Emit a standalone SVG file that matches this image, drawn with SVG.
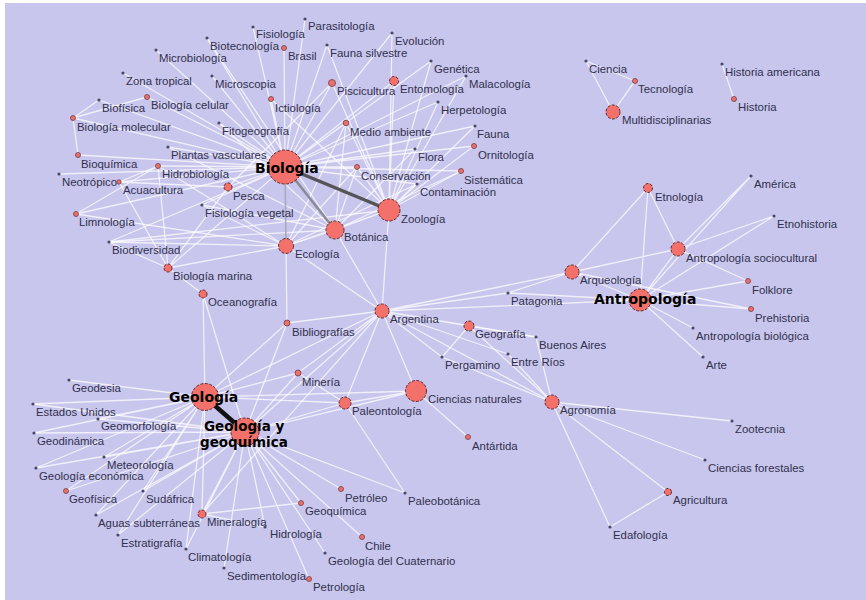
<svg xmlns="http://www.w3.org/2000/svg" width="866" height="600" viewBox="0 0 866 600">
<style>
.e{stroke:#ffffff;stroke-opacity:0.72;stroke-width:1.3;fill:none}
.d{fill:#4a4a68}
.s{fill:#e8736e;stroke:#7a3a40;stroke-width:0.8}
.n{fill:#f4716b;stroke:#5a2a2e;stroke-width:1;stroke-dasharray:3 1.5}
.t{font-family:"Liberation Sans",Arial,sans-serif;font-size:11.4px;fill:#30304e}
.b{font-family:"DejaVu Sans",Verdana,sans-serif;font-size:14px;font-weight:bold;fill:#000}
.b2{font-family:"DejaVu Sans",Verdana,sans-serif;font-size:13.5px;font-weight:bold;fill:#000}
</style>
<rect x="0" y="0" width="866" height="600" fill="#ffffff"/>
<rect x="5" y="3" width="861" height="597" fill="#c8c6ec"/>
<g id="connectors">
<g class="e">
<path d="M285 167L253 27M285 167L305 19M285 167L207 38M285 167L284 48M285 167L392 33M285 167L327 45M285 167L156 50M285 167L431 61M285 167L123 73M285 167L212 76M285 167L332 83M285 167L394 81M285 167L466 76M285 167L99 100M285 167L147 97M285 167L271 99M285 167L438 102M285 167L73 118M285 167L219 123M285 167L346 123M285 167L475 126M285 167L168 147M285 167L415 149M285 167L474 146M285 167L78 155M285 167L158 166M285 167L357 167M285 167L461 171M285 167L59 174M285 167L119 182M285 167L228 187M285 167L417 184M285 167L202 205M285 167L76 214M285 167L109 242M285 167L168 268"/>
<path d="M389 210L394 81M389 210L431 61M389 210L466 76M389 210L438 102M389 210L475 126M389 210L474 146M389 210L461 171M389 210L392 33M389 210L327 45M389 210L357 167M389 210L271 99M389 210L332 83M389 210L346 123M389 210L417 184M389 210L382 311M389 210L286 246M389 210L109 242M389 210L335 230"/>
<path d="M335 230L415 149M335 230L168 147M335 230L219 123M335 230L202 205M335 230L461 171M335 230L382 311M335 230L286 246M335 230L207 38M335 230L357 167M335 230L109 242M335 230L346 123"/>
<path d="M286 246L346 123M286 246L357 167M286 246L109 242M286 246L76 214M286 246L417 184M286 246L287 323M286 246L168 268M286 246L382 311M286 246L158 166M286 246L202 205"/>
<path d="M168 268L203 294M168 268L109 242M168 268L119 182M168 268L158 166M168 268L228 187M158 166L76 214M158 166L119 182M228 187L119 182M73 118L78 155M73 118L147 97M73 118L99 100M228 187L332 83M203 294L205 397M203 294L245 432M287 323L245 432M287 323L205 397"/>
<path d="M382 311L572 272M382 311L640 300M382 311L508 293M382 311L469 326M382 311L536 337M382 311L442 357M382 311L508 354M382 311L552 402M382 311L416 391M382 311L345 403M382 311L205 397M382 311L245 432M382 311L287 323M382 311L298 373M382 311L202 514"/>
<path d="M640 300L572 272M640 300L648 188M640 300L678 249M640 300L748 281M640 300L751 309M640 300L693 328M640 300L703 357M640 300L774 216M640 300L751 176M640 300L508 293M678 249L648 188M678 249L751 176M678 249L774 216M678 249L748 281M678 249L572 272M572 272L648 188M572 272L751 309M572 272L508 293"/>
<path d="M552 402L732 421M552 402L705 460M552 402L668 492M552 402L610 527M552 402L536 337M552 402L508 354M552 402L469 326M552 402L442 357M668 492L610 527M469 326L536 337M469 326L442 357M416 391L468 437M416 391L205 397M416 391L345 403M416 391L245 432"/>
<path d="M205 397L69 380M205 397L33 404M205 397L98 419M205 397L34 433M205 397L104 457M205 397L36 468M205 397L66 491M205 397L143 491M205 397L96 515M205 397L202 514M205 397L118 535M205 397L186 549M205 397L298 373M205 397L345 403"/>
<path d="M245 432L341 489M245 432L301 503M245 432L265 527M245 432L362 537M245 432L325 553M245 432L309 579M245 432L224 568M245 432L202 514M245 432L186 549M245 432L118 535M245 432L96 515M245 432L143 491M245 432L66 491M245 432L36 468M245 432L104 457M245 432L34 433M245 432L33 404M245 432L98 419M245 432L298 373M245 432L345 403M245 432L405 493M345 403L405 493M345 403L298 373M202 514L301 503M202 514L265 527"/>
<path d="M613 112L586 61M613 112L635 81M586 61L635 81M722 64L734 99"/>
</g>
<line x1="285" y1="167" x2="286" y2="246" stroke="#a9a8c0" stroke-width="1.6"/>
<line x1="285" y1="167" x2="335" y2="230" stroke="#8a8a96" stroke-width="2.5"/>
<line x1="285" y1="167" x2="389" y2="210" stroke="#555558" stroke-width="3.5"/>
<line x1="205" y1="397" x2="245" y2="432" stroke="#111" stroke-width="4.5"/>
</g>
<g id="nodes">
<g id="n-fisiologia"><circle class="d" cx="253" cy="27" r="1.6"/><text class="t" x="256" y="38">Fisiología</text></g>
<g id="n-parasitologia"><circle class="d" cx="305" cy="19" r="1.6"/><text class="t" x="308" y="30">Parasitología</text></g>
<g id="n-biotecnologia"><circle class="d" cx="207" cy="38" r="1.6"/><text class="t" x="210" y="50">Biotecnología</text></g>
<g id="n-brasil"><circle class="s" cx="284" cy="48" r="2.5"/><text class="t" x="288" y="60">Brasil</text></g>
<g id="n-evolucion"><circle class="d" cx="392" cy="33" r="1.6"/><text class="t" x="395" y="45">Evolución</text></g>
<g id="n-fauna-silvestre"><circle class="d" cx="327" cy="45" r="1.6"/><text class="t" x="330" y="57">Fauna silvestre</text></g>
<g id="n-microbiologia"><circle class="d" cx="156" cy="50" r="1.6"/><text class="t" x="159" y="62">Microbiología</text></g>
<g id="n-genetica"><circle class="d" cx="431" cy="61" r="1.6"/><text class="t" x="434" y="73">Genética</text></g>
<g id="n-zona-tropical"><circle class="d" cx="123" cy="73" r="1.6"/><text class="t" x="126" y="85">Zona tropical</text></g>
<g id="n-microscopia"><circle class="d" cx="212" cy="76" r="1.6"/><text class="t" x="215" y="88">Microscopia</text></g>
<g id="n-piscicultura"><circle class="s" cx="332" cy="83" r="3.5"/><text class="t" x="337" y="95">Piscicultura</text></g>
<g id="n-entomologia"><circle class="n" cx="394" cy="81" r="4.5"/><text class="t" x="400" y="93">Entomología</text></g>
<g id="n-malacologia"><circle class="d" cx="466" cy="76" r="1.6"/><text class="t" x="469" y="88">Malacología</text></g>
<g id="n-biofisica"><circle class="d" cx="99" cy="100" r="1.6"/><text class="t" x="102" y="112">Biofísica</text></g>
<g id="n-biologia-celular"><circle class="s" cx="147" cy="97" r="2.5"/><text class="t" x="151" y="109">Biología celular</text></g>
<g id="n-ictiologia"><circle class="s" cx="271" cy="99" r="2.5"/><text class="t" x="275" y="112">Ictiología</text></g>
<g id="n-herpetologia"><circle class="d" cx="438" cy="102" r="1.6"/><text class="t" x="441" y="114">Herpetología</text></g>
<g id="n-biologia-molecular"><circle class="s" cx="73" cy="118" r="2.5"/><text class="t" x="77" y="131">Biología molecular</text></g>
<g id="n-fitogeografia"><circle class="d" cx="219" cy="123" r="1.6"/><text class="t" x="222" y="135">Fitogeografía</text></g>
<g id="n-medio-ambiente"><circle class="s" cx="346" cy="123" r="2.8"/><text class="t" x="350" y="136">Medio ambiente</text></g>
<g id="n-fauna"><circle class="d" cx="475" cy="126" r="1.6"/><text class="t" x="477" y="138">Fauna</text></g>
<g id="n-plantas-vasculares"><circle class="d" cx="168" cy="147" r="1.6"/><text class="t" x="171" y="159">Plantas vasculares</text></g>
<g id="n-flora"><circle class="d" cx="415" cy="149" r="1.6"/><text class="t" x="418" y="161">Flora</text></g>
<g id="n-ornitologia"><circle class="s" cx="474" cy="146" r="2.5"/><text class="t" x="478" y="159">Ornitología</text></g>
<g id="n-bioquimica"><circle class="s" cx="78" cy="155" r="2.5"/><text class="t" x="81" y="168">Bioquímica</text></g>
<g id="n-hidrobiologia"><circle class="s" cx="158" cy="166" r="2.5"/><text class="t" x="162" y="178">Hidrobiología</text></g>
<g id="n-conservacion"><circle class="s" cx="357" cy="167" r="2.5"/><text class="t" x="361" y="180">Conservación</text></g>
<g id="n-sistematica"><circle class="s" cx="461" cy="171" r="2.5"/><text class="t" x="464" y="184">Sistemática</text></g>
<g id="n-neotropico"><circle class="d" cx="59" cy="174" r="1.6"/><text class="t" x="62" y="186">Neotrópico</text></g>
<g id="n-acuacultura"><circle class="s" cx="119" cy="182" r="2.2"/><text class="t" x="123" y="194">Acuacultura</text></g>
<g id="n-pesca"><circle class="n" cx="228" cy="187" r="4"/><text class="t" x="233" y="200">Pesca</text></g>
<g id="n-contaminacion"><circle class="d" cx="417" cy="184" r="1.6"/><text class="t" x="420" y="196">Contaminación</text></g>
<g id="n-fisiologia-vegetal"><circle class="d" cx="202" cy="205" r="1.6"/><text class="t" x="205" y="217">Fisiología vegetal</text></g>
<g id="n-limnologia"><circle class="s" cx="76" cy="214" r="2.5"/><text class="t" x="79" y="226">Limnología</text></g>
<g id="n-biodiversidad"><circle class="d" cx="109" cy="242" r="1.6"/><text class="t" x="112" y="254">Biodiversidad</text></g>
<g id="n-biologia-marina"><circle class="n" cx="168" cy="268" r="4"/><text class="t" x="173" y="280">Biología marina</text></g>
<g id="n-oceanografia"><circle class="n" cx="203" cy="294" r="4"/><text class="t" x="208" y="306">Oceanografía</text></g>
<g id="n-bibliografias"><circle class="s" cx="287" cy="323" r="3"/><text class="t" x="292" y="336">Bibliografías</text></g>
<g id="n-mineria"><circle class="s" cx="298" cy="373" r="3"/><text class="t" x="302" y="386">Minería</text></g>
<g id="n-zoologia"><circle class="n" cx="389" cy="210" r="11"/><text class="t" x="401" y="223">Zoología</text></g>
<g id="n-botanica"><circle class="n" cx="335" cy="230" r="9"/><text class="t" x="344" y="241">Botánica</text></g>
<g id="n-ecologia"><circle class="n" cx="286" cy="246" r="7.5"/><text class="t" x="295" y="258">Ecología</text></g>
<g id="n-biologia"><circle class="n" cx="285" cy="167" r="17"/><text class="b" x="255" y="173">Biología</text></g>
<g id="n-argentina"><circle class="n" cx="382" cy="311" r="7"/><text class="t" x="390" y="323">Argentina</text></g>
<g id="n-patagonia"><circle class="d" cx="508" cy="293" r="1.6"/><text class="t" x="511" y="305">Patagonia</text></g>
<g id="n-geografia"><circle class="n" cx="469" cy="326" r="5"/><text class="t" x="475" y="338">Geografía</text></g>
<g id="n-buenos-aires"><circle class="d" cx="536" cy="337" r="1.6"/><text class="t" x="539" y="349">Buenos Aires</text></g>
<g id="n-pergamino"><circle class="d" cx="442" cy="357" r="1.6"/><text class="t" x="445" y="369">Pergamino</text></g>
<g id="n-entre-rios"><circle class="d" cx="508" cy="354" r="1.6"/><text class="t" x="511" y="366">Entre Ríos</text></g>
<g id="n-ciencias-naturales"><circle class="n" cx="416" cy="391" r="10.5"/><text class="t" x="428" y="403">Ciencias naturales</text></g>
<g id="n-paleontologia"><circle class="n" cx="345" cy="403" r="6"/><text class="t" x="352" y="415">Paleontología</text></g>
<g id="n-antartida"><circle class="s" cx="468" cy="437" r="2.5"/><text class="t" x="472" y="450">Antártida</text></g>
<g id="n-agronomia"><circle class="n" cx="552" cy="402" r="7"/><text class="t" x="560" y="414">Agronomía</text></g>
<g id="n-zootecnia"><circle class="d" cx="732" cy="421" r="1.6"/><text class="t" x="735" y="433">Zootecnia</text></g>
<g id="n-ciencias-forestales"><circle class="d" cx="705" cy="460" r="1.6"/><text class="t" x="708" y="472">Ciencias forestales</text></g>
<g id="n-agricultura"><circle class="n" cx="668" cy="492" r="3.5"/><text class="t" x="673" y="504">Agricultura</text></g>
<g id="n-edafologia"><circle class="d" cx="610" cy="527" r="1.6"/><text class="t" x="613" y="539">Edafología</text></g>
<g id="n-ciencia"><circle class="d" cx="586" cy="61" r="1.6"/><text class="t" x="589" y="73">Ciencia</text></g>
<g id="n-tecnologia"><circle class="s" cx="635" cy="81" r="2.5"/><text class="t" x="638" y="93">Tecnología</text></g>
<g id="n-multidisciplinarias"><circle class="n" cx="613" cy="112" r="7"/><text class="t" x="622" y="124">Multidisciplinarias</text></g>
<g id="n-historia-americana"><circle class="d" cx="722" cy="64" r="1.6"/><text class="t" x="725" y="76">Historia americana</text></g>
<g id="n-historia"><circle class="s" cx="734" cy="99" r="2.5"/><text class="t" x="738" y="111">Historia</text></g>
<g id="n-etnologia"><circle class="n" cx="648" cy="188" r="4.5"/><text class="t" x="655" y="201">Etnología</text></g>
<g id="n-america"><circle class="d" cx="751" cy="176" r="1.6"/><text class="t" x="754" y="188">América</text></g>
<g id="n-etnohistoria"><circle class="d" cx="774" cy="216" r="1.6"/><text class="t" x="777" y="228">Etnohistoria</text></g>
<g id="n-antropologia-sociocultural"><circle class="n" cx="678" cy="249" r="7"/><text class="t" x="686" y="262">Antropología sociocultural</text></g>
<g id="n-arqueologia"><circle class="n" cx="572" cy="272" r="7"/><text class="t" x="580" y="284">Arqueología</text></g>
<g id="n-folklore"><circle class="s" cx="748" cy="281" r="2.5"/><text class="t" x="752" y="294">Folklore</text></g>
<g id="n-prehistoria"><circle class="s" cx="751" cy="309" r="2.5"/><text class="t" x="755" y="322">Prehistoria</text></g>
<g id="n-antropologia-biologica"><circle class="d" cx="693" cy="328" r="1.6"/><text class="t" x="696" y="340">Antropología biológica</text></g>
<g id="n-arte"><circle class="d" cx="703" cy="357" r="1.6"/><text class="t" x="706" y="369">Arte</text></g>
<g id="n-antropologia"><circle class="n" cx="640" cy="300" r="11"/><text class="b" x="594" y="304">Antropología</text></g>
<g id="n-geodesia"><circle class="d" cx="69" cy="380" r="1.6"/><text class="t" x="72" y="392">Geodesia</text></g>
<g id="n-estados-unidos"><circle class="d" cx="33" cy="404" r="1.6"/><text class="t" x="36" y="416">Estados Unidos</text></g>
<g id="n-geomorfologia"><circle class="d" cx="98" cy="419" r="1.6"/><text class="t" x="101" y="430">Geomorfología</text></g>
<g id="n-geodinamica"><circle class="d" cx="34" cy="433" r="1.6"/><text class="t" x="37" y="445">Geodinámica</text></g>
<g id="n-meteorologia"><circle class="d" cx="104" cy="457" r="1.6"/><text class="t" x="107" y="469">Meteorología</text></g>
<g id="n-geologia-economica"><circle class="d" cx="36" cy="468" r="1.6"/><text class="t" x="39" y="480">Geología económica</text></g>
<g id="n-geofisica"><circle class="s" cx="66" cy="491" r="2.5"/><text class="t" x="69" y="503">Geofísica</text></g>
<g id="n-sudafrica"><circle class="d" cx="143" cy="491" r="1.6"/><text class="t" x="146" y="503">Sudáfrica</text></g>
<g id="n-aguas-subterraneas"><circle class="d" cx="96" cy="515" r="1.6"/><text class="t" x="98" y="527">Aguas subterráneas</text></g>
<g id="n-mineralogia"><circle class="n" cx="202" cy="514" r="4"/><text class="t" x="207" y="526">Mineralogía</text></g>
<g id="n-estratigrafia"><circle class="d" cx="118" cy="535" r="1.6"/><text class="t" x="121" y="547">Estratigrafía</text></g>
<g id="n-climatologia"><circle class="d" cx="186" cy="549" r="1.6"/><text class="t" x="188" y="561">Climatología</text></g>
<g id="n-sedimentologia"><circle class="d" cx="224" cy="568" r="1.6"/><text class="t" x="227" y="580">Sedimentología</text></g>
<g id="n-hidrologia"><circle class="d" cx="265" cy="527" r="1.6"/><text class="t" x="270" y="538">Hidrología</text></g>
<g id="n-petrologia"><circle class="s" cx="309" cy="579" r="2.5"/><text class="t" x="313" y="591">Petrología</text></g>
<g id="n-geologia-cuaternario"><circle class="d" cx="325" cy="553" r="1.6"/><text class="t" x="328" y="565">Geología del Cuaternario</text></g>
<g id="n-chile"><circle class="s" cx="362" cy="537" r="2.5"/><text class="t" x="365" y="550">Chile</text></g>
<g id="n-geoquimica"><circle class="s" cx="301" cy="503" r="2.5"/><text class="t" x="305" y="515">Geoquímica</text></g>
<g id="n-petroleo"><circle class="s" cx="341" cy="489" r="2.5"/><text class="t" x="345" y="502">Petróleo</text></g>
<g id="n-paleobotanica"><circle class="d" cx="405" cy="493" r="1.6"/><text class="t" x="408" y="505">Paleobotánica</text></g>
<g id="n-geologia"><circle class="n" cx="205" cy="397" r="13.5"/><text class="b" x="169" y="402">Geología</text></g>
<g id="n-geologia-geoquimica"><circle class="n" cx="245" cy="432" r="14"/><text class="b2" x="204" y="431">Geología y</text><text class="b2" x="200" y="447">geoquímica</text></g>
</g>
</svg>
